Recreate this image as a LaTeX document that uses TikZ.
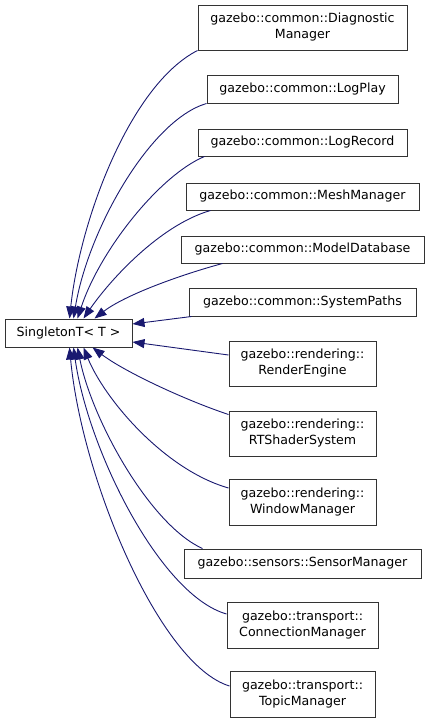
\documentclass[tikz,border=0pt]{standalone}
\usepackage{fontspec}
\setmainfont{DejaVu Sans}
\usetikzlibrary{arrows.meta}
\definecolor{edgeblue}{HTML}{191970}
\definecolor{boxline}{HTML}{333333}
\tikzset{
  cls/.style={draw=boxline, line width=1pt, fill=white, inner sep=0pt, align=center,
    font=\fontsize{12.6}{16}\selectfont},
  inh/.style={draw=edgeblue, line width=0.9pt, -{Triangle[length=12pt,width=9pt]}, fill=none},
}
\begin{document}
\begin{tikzpicture}[x=1pt,y=-1pt]
\useasboundingbox (0,0) rectangle (429,723);
\node[cls, minimum width=209pt, minimum height=45pt] (diag) at (302.5,27.5) {gazebo::common::Diagnostic\\Manager};
\node[cls, minimum width=191pt, minimum height=28pt] (logplay) at (302.5,89) {gazebo::common::LogPlay};
\node[cls, minimum width=209pt, minimum height=27pt] (logrec) at (302.5,142.5) {gazebo::common::LogRecord};
\node[cls, minimum width=233pt, minimum height=27pt] (mesh) at (302.5,196.5) {gazebo::common::MeshManager};
\node[cls, minimum width=243pt, minimum height=27pt] (modeldb) at (302.5,249.5) {gazebo::common::ModelDatabase};
\node[cls, minimum width=227pt, minimum height=28pt] (syspaths) at (302.5,302) {gazebo::common::SystemPaths};
\node[cls, minimum width=127pt, minimum height=28pt] (single) at (68.5,333) {SingletonT< T >};
\node[cls, minimum width=147pt, minimum height=45pt] (render) at (302.5,363.5) {gazebo::rendering::\\RenderEngine};
\node[cls, minimum width=147pt, minimum height=45pt] (rtshader) at (302.5,433.5) {gazebo::rendering::\\RTShaderSystem};
\node[cls, minimum width=147pt, minimum height=46pt] (window) at (302.5,502) {gazebo::rendering::\\WindowManager};
\node[cls, minimum width=237pt, minimum height=29pt] (sensor) at (302.5,563.5) {gazebo::sensors::SensorManager};
\node[cls, minimum width=151pt, minimum height=46pt] (conn) at (302.5,625) {gazebo::transport::\\ConnectionManager};
\node[cls, minimum width=145pt, minimum height=46pt] (topic) at (302.5,694) {gazebo::transport::\\TopicManager};

% heads on SingletonT
\path (single.north west) ++(65,0) coordinate (hd1)
      (single.north west) ++(69,0) coordinate (hd2)
      (single.north west) ++(73,0) coordinate (hd3)
      (single.north west) ++(79,0) coordinate (hd4)
      (single.north west) ++(90,0) coordinate (hd5)
      (single.east) ++(0,-9) coordinate (hd6)
      (single.east) ++(0,9) coordinate (hd7)
      (single.south west) ++(88,0) coordinate (hd8)
      (single.south west) ++(79,0) coordinate (hd9)
      (single.south west) ++(73,0) coordinate (hd10)
      (single.south west) ++(69,0) coordinate (hd11)
      (single.south west) ++(65,0) coordinate (hd12);

\draw[inh] (diag.south west) .. controls (130,85) and (80,220) .. (hd1);
\draw[inh] (logplay.south west) .. controls (150,120) and (88,230) .. (hd2);
\draw[inh] ([xshift=7pt]logrec.south west) .. controls (160,175) and (100,250) .. (hd3);
\draw[inh] ([xshift=25pt]mesh.south west) .. controls (160,225) and (110,280) .. (hd4);
\draw[inh] ([xshift=42pt]modeldb.south west) .. controls (180,275) and (125,295) .. (hd5);
\draw[inh] ([xshift=3pt]syspaths.south west) -- (hd6);
\draw[inh] ([yshift=8.5pt]render.west) -- (hd7);
\draw[inh] ([yshift=19pt]rtshader.west) .. controls (185,400) and (125,372) .. (hd8);
\draw[inh] ([yshift=14pt]window.west) .. controls (165,470) and (105,400) .. (hd9);
\draw[inh] ([xshift=19pt]sensor.north west) .. controls (150,525) and (92,420) .. (hd10);
\draw[inh] ([yshift=11pt]conn.west) .. controls (160,595) and (88,450) .. (hd11);
\draw[inh] ([yshift=8pt]topic.west) .. controls (160,665) and (82,480) .. (hd12);
\end{tikzpicture}
\end{document}
